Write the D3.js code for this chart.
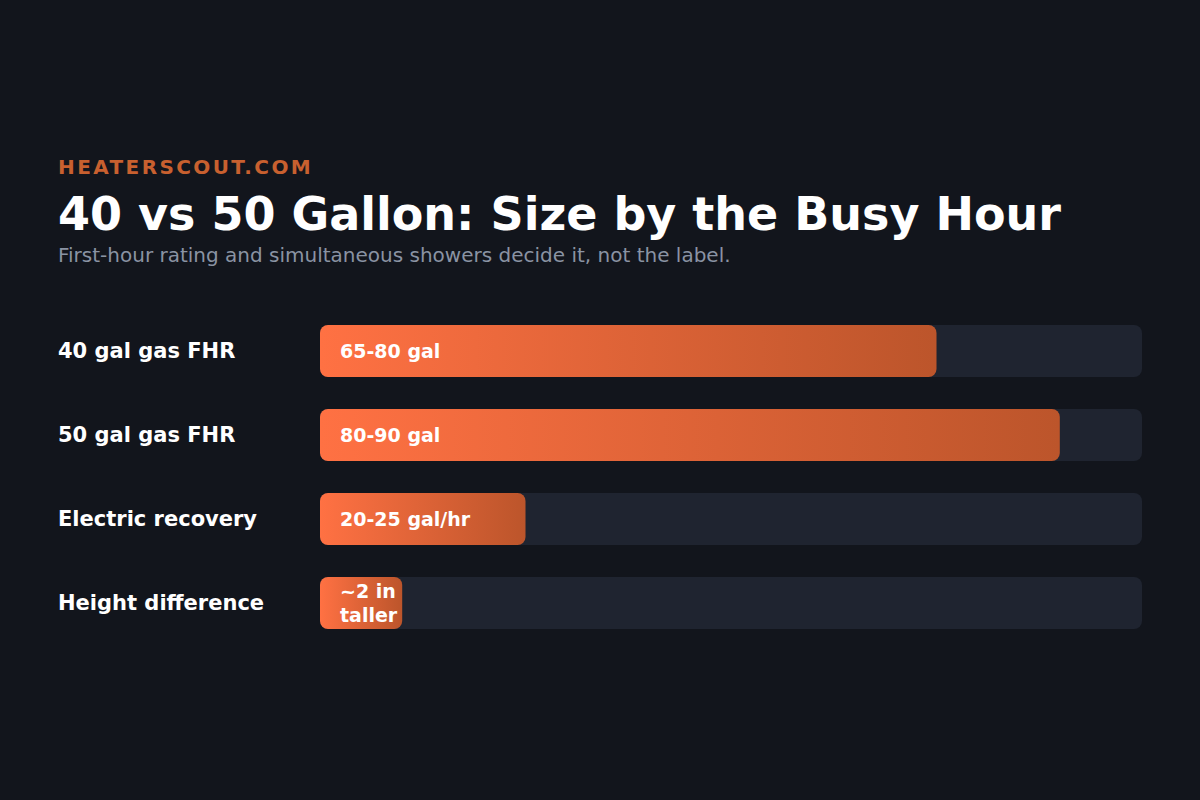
<!DOCTYPE html>
<html><head><meta charset="utf-8">
<script src="https://cdn.jsdelivr.net/npm/d3@7"></script>
<style>html,body{margin:0;background:#12151c;}svg{display:block;font-family:"DejaVu Sans",sans-serif;}</style>
</head><body><svg id="c" width="1200" height="800"></svg>
<script>
const categories = ["40 gal gas FHR","50 gal gas FHR","Electric recovery","Height difference"];
const values = [75, 90, 25, 10];
const valueLabels = [["65-80 gal"],["80-90 gal"],["20-25 gal/hr"],["~2 in","taller"]];
const maxValue = 100;

const svg = d3.select("#c");
svg.append("rect").attr("width",1200).attr("height",800).attr("fill","#12151c");
svg.append("text").attr("x",58).attr("y",174).attr("fill","#c8602f").attr("font-size",20).attr("font-weight","bold").attr("letter-spacing",2.4).text("HEATERSCOUT.COM");
svg.append("text").attr("x",58).attr("y",230).attr("fill","#ffffff").attr("font-size",46).attr("font-weight","bold").text("40 vs 50 Gallon: Size by the Busy Hour");
svg.append("text").attr("x",58).attr("y",262).attr("fill","#8a93a3").attr("font-size",20).text("First-hour rating and simultaneous showers decide it, not the label.");

const defs = svg.append("defs");
const g = defs.append("linearGradient").attr("id","gr").attr("x1","0%").attr("x2","100%");
g.append("stop").attr("offset","0%").attr("stop-color","#ff7143");
g.append("stop").attr("offset","100%").attr("stop-color","#bc552b");

const x = d3.scaleLinear().domain([0,maxValue]).range([320,1142]);
const y = d3.scaleBand().domain(categories).range([325,629]).paddingInner(32/84).paddingOuter(0);

const rows = svg.selectAll("g.row").data(categories).join("g");
rows.append("rect").attr("x",x(0)).attr("y",d=>y(d)).attr("width",x(maxValue)-x(0)).attr("height",y.bandwidth()).attr("rx",8).attr("fill","#1f2430");
rows.append("rect").attr("x",x(0)).attr("y",d=>y(d)).attr("width",(d,i)=>x(values[i])-x(0)).attr("height",y.bandwidth()).attr("rx",8).attr("fill","url(#gr)");
rows.append("text").attr("x",58).attr("y",d=>y(d)+y.bandwidth()/2+7).attr("fill","#fff").attr("font-size",21).attr("font-weight","bold").text(d=>d);
rows.each(function(d,i){
  const lines = valueLabels[i];
  const cy = y(d)+y.bandwidth()/2;
  const t = d3.select(this).append("text").attr("x",340).attr("fill","#fff").attr("font-size",19).attr("font-weight","bold");
  lines.forEach((l,j)=>{
    t.append("tspan").attr("x",340).attr("y",cy+7+(j-(lines.length-1)/2)*24).text(l);
  });
});
</script></body></html>
